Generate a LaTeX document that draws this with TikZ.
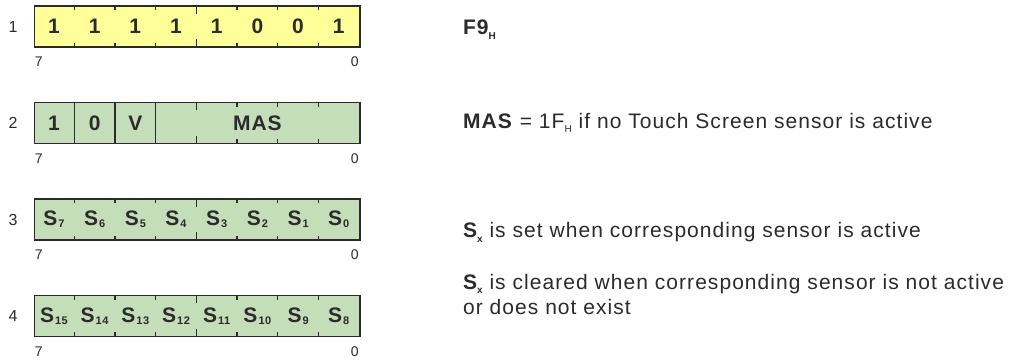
\documentclass[tikz,border=0pt]{standalone}
\usepackage{fontspec}
\setmainfont{Liberation Sans}[LetterSpace=5]
\usetikzlibrary{calc, positioning}
\usepackage{xcolor}

\definecolor{regyellow}{HTML}{FFFF99}
\definecolor{reggreen}{HTML}{C3DEB9}
\definecolor{inkgray}{HTML}{2B2B2B}

% small lowered indices
\newcommand{\regsub}[1]{\raisebox{-4.5pt}{\fontsize{10}{10}\selectfont #1}}
\newcommand{\cellsub}[1]{\kern1pt\raisebox{-2pt}{\fontsize{11}{11}\selectfont #1}}

\begin{document}
\begin{tikzpicture}[
    x=1pt, y=1pt,
    reg/.style={rectangle, draw=inkgray, line width=1.8pt, minimum width=325.5pt, minimum height=41pt, inner sep=0pt},
    bit/.style={font=\fontsize{21}{25}\selectfont\bfseries, text=inkgray, inner sep=0pt},
    rowno/.style={font=\fontsize{16}{19}\selectfont, text=inkgray, inner sep=0pt},
    bitno/.style={font=\fontsize{14}{17}\selectfont, text=inkgray, inner sep=0pt},
    note/.style={font=\fontsize{21}{25}\selectfont, text=inkgray, anchor=west, align=left, inner sep=0pt},
    tick/.style={draw=inkgray, line width=1.2pt}
]
    \useasboundingbox (0,0) rectangle (1010,-360);

    % Registers
    \node[reg, fill=regyellow] (r1) at (197.25,-26.5) {};
    \node[reg, fill=reggreen] (r2) at (197.25,-123) {};
    \node[reg, fill=reggreen] (r3) at (197.25,-219.5) {};
    \node[reg, fill=reggreen] (r4) at (197.25,-316) {};

    % Row numbers and bit numbers
    \foreach \r/\n in {r1/1, r2/2, r3/3, r4/4} {
        \node[rowno, left=16pt of \r] (\r no) {\n};
        \node[bitno, below right=9pt and 1pt of \r.south west] (\r hi) {7};
        \node[bitno, below left=9pt and 2pt of \r.south east] (\r lo) {0};
    }

    % Ticks
    \foreach \r in {r1, r3, r4} {
        \foreach \k/\l in {1/5, 2/5, 3/5, 4/8.5, 5/5, 6/5, 7/5} {
            \draw[tick] ($(\r.north west)+(\k*40.69,0)$) -- ++(0,-\l);
            \draw[tick] ($(\r.south west)+(\k*40.69,0)$) -- ++(0,\l);
        }
    }
    \foreach \k in {1, 2, 3}
        \draw[tick] ($(r2.north west)+(\k*40.69,0)$) -- ($(r2.south west)+(\k*40.69,0)$);
    \foreach \k/\l in {4/8.5, 5/5, 6/5, 7/5} {
        \draw[tick] ($(r2.north west)+(\k*40.69,0)$) -- ++(0,-\l);
        \draw[tick] ($(r2.south west)+(\k*40.69,0)$) -- ++(0,\l);
    }

    % Bit contents
    \foreach \b [count=\i] in {1,1,1,1,1,0,0,1}
        \node[bit] (r1b\i) at ($(r1.west)+(\i*40.69-20.35,0)$) {\b};
    \foreach \b [count=\i] in {1,0,V}
        \node[bit] (r2b\i) at ($(r2.west)+(\i*40.69-20.35,0)$) {\b};
    \node[bit] (r2mas) at ($(r2.west)+(5.5*40.69,0)$) {MAS};
    \foreach \s [count=\i] in {7,6,5,4,3,2,1,0}
        \node[bit] (r3b\i) at ($(r3.west)+(\i*40.69-20.35,0)$) {S\cellsub{\s}};
    \foreach \s [count=\i] in {15,14,13,12,11,10,9,8}
        \node[bit] (r4b\i) at ($(r4.west)+(\i*40.69-20.35,0)$) {S\cellsub{\s}};

    % Notes
    \node[note] (n1) at ($(r1.east)+(102,-3)$) {\textbf{F9\regsub{H}}};
    \node[note, right=102pt of r2] (n2) {\textbf{MAS} = 1F\regsub{H} if no Touch Screen sensor is active};
    \node[note] (n3) at ($(r3.east)+(102,-13)$) {\textbf{S\regsub{x}} is set when corresponding sensor is active};
    \node[note] (n4) at ($(r4.east)+(102,22)$) {\textbf{S\regsub{x}} is cleared when corresponding sensor is not active\\or does not exist};
\end{tikzpicture}
\end{document}
